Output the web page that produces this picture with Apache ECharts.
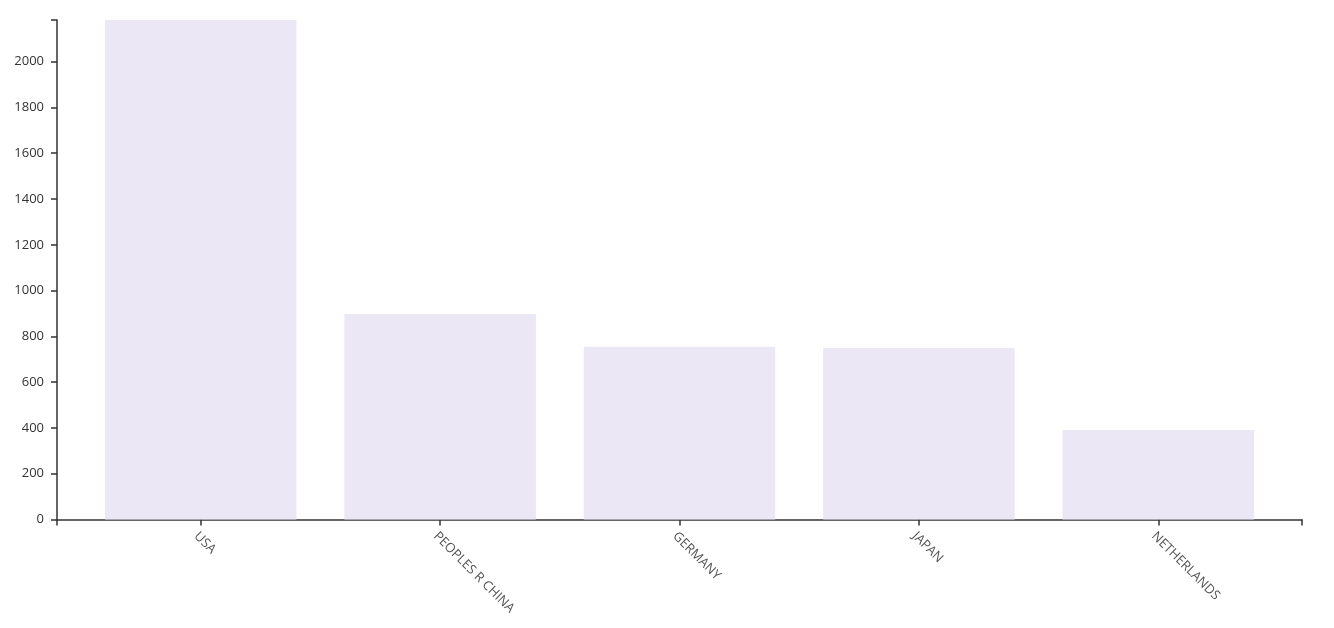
<!DOCTYPE html>
<html>
<head>
<meta charset="utf-8">
<script src="https://cdn.jsdelivr.net/npm/echarts@6/dist/echarts.min.js"></script>
<style>
html,body{margin:0;padding:0;background:#fff;}
#chart{width:1334px;height:628px;}
</style>
</head>
<body>
<div id="chart"></div>
<script>
const categories = ['USA', 'PEOPLES R CHINA', 'GERMANY', 'JAPAN', 'NETHERLANDS'];
const values = [2182, 898, 755, 749, 391];
const yTickLabels = [0, 200, 400, 600, 800, 1000, 1200, 1400, 1600, 1800, 2000];
const yMax = 2182;

const chart = echarts.init(document.getElementById('chart'), null, {renderer: 'canvas'});
const font = 'Open Sans';
const axisColor = '#333';
chart.setOption({
  animation: false,
  backgroundColor: '#fff',
  grid: [
    {left: 81, right: 56, top: 20, bottom: 108.5},
    {left: 57, right: 32, top: 20, bottom: 108.5}
  ],
  xAxis: [
    {
      type: 'category', gridIndex: 0, data: categories, boundaryGap: true,
      axisLine: {show: false},
      axisTick: {show: true, alignWithLabel: true, length: 6, lineStyle: {color: axisColor, width: 1.5}},
      axisLabel: {rotate: -45, margin: 10, verticalAlign: 'top', fontFamily: font, fontSize: 13, color: '#555', interval: 0}
    },
    {
      type: 'value', gridIndex: 1, min: 0, max: 1,
      axisLine: {show: true, lineStyle: {color: axisColor, width: 1.5}},
      axisTick: {show: true, customValues: [0, 1], length: 6, lineStyle: {color: axisColor, width: 1.5}},
      axisLabel: {show: false},
      splitLine: {show: false}
    }
  ],
  yAxis: [
    {type: 'value', gridIndex: 0, min: 0, max: yMax, show: false, splitLine: {show: false}},
    {
      type: 'value', gridIndex: 1, min: 0, max: yMax, interval: 200,
      axisLine: {show: true, lineStyle: {color: axisColor, width: 1.5}},
      axisTick: {show: true, customValues: yTickLabels.concat([yMax]), length: 6, lineStyle: {color: axisColor, width: 1.5}},
      axisLabel: {customValues: yTickLabels, formatter: function (v) { return String(v); }, margin: 13, fontFamily: font, fontSize: 13, color: '#333'},
      splitLine: {show: false}
    }
  ],
  series: [{
    type: 'bar', xAxisIndex: 0, yAxisIndex: 0,
    data: values, barWidth: '80%',
    itemStyle: {color: '#ebe7f5'}
  }]
});
</script>
</body>
</html>
